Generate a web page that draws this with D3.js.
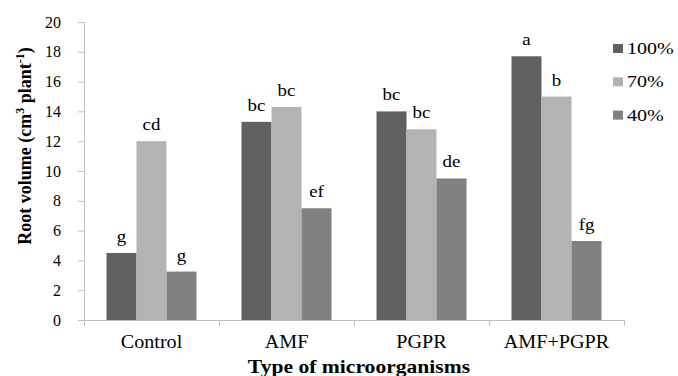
<!DOCTYPE html>
<html><head><meta charset="utf-8">
<script src="https://cdn.jsdelivr.net/npm/d3@7"></script>
<style>body{margin:0;background:#fff;}</style>
</head><body><svg id="c" width="678" height="376"></svg>
<script>
const categories = ["Control","AMF","PGPR","AMF+PGPR"];
const seriesNames = ["100%","70%","40%"];
const v100 = [4.5, 13.3, 14.0, 17.7];
const v70 = [12.0, 14.3, 12.8, 15.0];
const v40 = [3.25, 7.5, 9.5, 5.3];
const l100 = ["g","bc","bc","a"];
const l70 = ["cd","bc","bc","b"];
const l40 = ["g","ef","de","fg"];
const yTicks = [0,2,4,6,8,10,12,14,16,18,20];
const colors = ["#616161","#b3b3b3","#818181"];
const FONT = "'Liberation Serif', 'Times New Roman', Times, serif";
const SX = 1.18; // horizontal stretch of text seen in reference

const values = [v100, v70, v40];
const letters = [l100, l70, l40];
const svg = d3.select("#c");
const x = d3.scaleBand().domain(categories).range([84, 624]).paddingInner(0).paddingOuter(0);
const x1 = d3.scaleBand().domain(seriesNames).range([22.5, 112.5]);
const y = d3.scaleLinear().domain([0,20]).range([320, 22]);

function stretchedText(parent, px, py, str, size, opts) {
  opts = opts || {};
  const t = parent.append("text")
    .attr("transform", `translate(${px},${py}) scale(${opts.sx||SX},1)`)
    .attr("text-anchor", opts.anchor || "middle")
    .attr("font-family", FONT).attr("font-size", size + "px")
    .attr("fill", "#000").text(str);
  if (opts.bold) t.attr("font-weight", "bold");
  return t;
}

// y axis
const ya = svg.append("g").attr("transform","translate(84,0)")
  .call(d3.axisLeft(y).tickValues(yTicks).tickSize(6).tickPadding(17).tickSizeOuter(0));
ya.attr("font-family", FONT);
ya.select(".domain").attr("stroke","#bfbfbf");
ya.selectAll(".tick line").attr("stroke","#bfbfbf");
ya.selectAll(".tick text").attr("font-size","16px").attr("fill","#000");

// x axis
const xa = svg.append("g").attr("transform","translate(0,320)");
xa.append("line").attr("x1",84).attr("x2",624).attr("y1",0.5).attr("y2",0.5).attr("stroke","#bfbfbf");
const bounds = categories.map(c=>x(c)).concat([x(categories[categories.length-1])+x.bandwidth()]);
xa.selectAll("line.t").data(bounds).enter().append("line")
  .attr("x1",d=>d+0.5).attr("x2",d=>d+0.5).attr("y1",0).attr("y2",6).attr("stroke","#bfbfbf");
categories.forEach(c => stretchedText(xa, x(c)+x.bandwidth()/2, 28, c, 18, {sx:1.12}));

// bars
seriesNames.forEach((s,si)=>{
  const g = svg.append("g");
  g.selectAll("rect").data(categories).enter().append("rect")
    .attr("x",(c)=>x(c)+x1(s)).attr("width",x1.bandwidth())
    .attr("y",(c,i)=>y(values[si][i])).attr("height",(c,i)=>y(0)-y(values[si][i]))
    .attr("fill",colors[si]);
  categories.forEach((c,i)=>{
    stretchedText(g, x(c)+x1(s)+x1.bandwidth()/2, y(values[si][i])-11, letters[si][i], 16);
  });
});

// titles
stretchedText(svg, 359, 373, "Type of microorganisms", 18, {bold:true, sx:1.2});
const yt = svg.append("text").attr("transform","translate(31,146) rotate(-90)")
  .attr("text-anchor","middle").attr("font-family",FONT).attr("font-size","18px").attr("font-weight","bold");
yt.append("tspan").text("Root volume (cm");
yt.append("tspan").attr("dy",-7).attr("font-size","12px").text("3");
yt.append("tspan").attr("dy",7).text(" plant");
yt.append("tspan").attr("dy",-7).attr("font-size","12px").text("-1");
yt.append("tspan").attr("dy",7).text(")");

// legend
const lg = svg.append("g");
seriesNames.forEach((s,i)=>{
  const yy = 54 + i*33.3;
  lg.append("rect").attr("x",613).attr("y",yy-10).attr("width",10).attr("height",9).attr("fill",colors[i]);
  stretchedText(lg, 627, yy, s, 17, {anchor:"start", sx:1.18});
});
</script></body></html>
